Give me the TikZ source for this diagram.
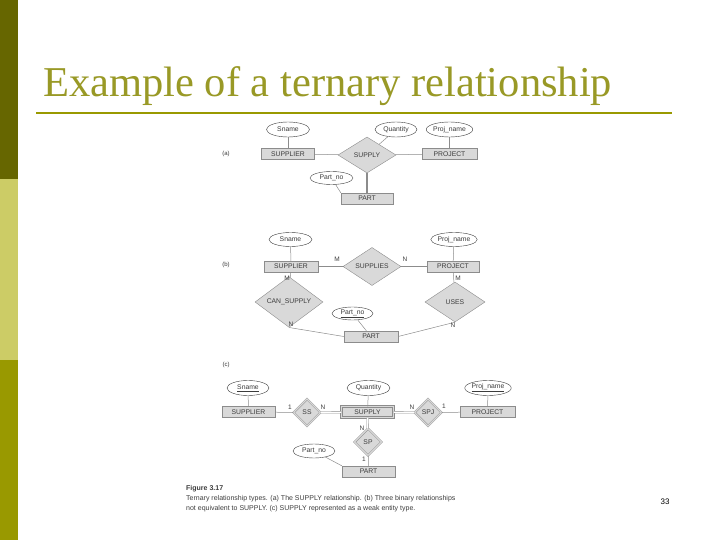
\documentclass[tikz,border=0pt]{standalone}
\usepackage{fontspec}
\setmainfont{Liberation Serif}
\setsansfont{Liberation Sans}
\usepackage{xcolor}
\usepackage{tikz}
\usetikzlibrary{positioning,shapes.geometric}
\definecolor{bardark}{HTML}{666600}
\definecolor{barlight}{HTML}{CCCC66}
\definecolor{barolive}{HTML}{999900}
\definecolor{titleolive}{HTML}{999926}
\definecolor{erfill}{HTML}{D9D9D9}
\definecolor{erline}{HTML}{8C8C8C}
\definecolor{ertext}{HTML}{3C3C3C}
\newcommand{\erkey}[1]{\underline{#1}}

\begin{document}
\begin{tikzpicture}[x=1pt,y=-1pt,font=\sffamily\fontsize{6.8}{8}\selectfont,text=ertext,
  entity/.style={draw=erline,fill=erfill,rectangle,inner sep=0pt,minimum width=53pt,minimum height=11pt},
  weakentity/.style={entity,double=erfill,double distance=1.4pt,minimum width=52pt,minimum height=11pt},
  rel/.style={draw=erline,fill=erfill,diamond,inner sep=0pt,minimum width=58pt,minimum height=36pt},
  idrel/.style={rel,double=erfill,double distance=1.2pt,minimum width=27pt,minimum height=27pt},
  attr/.style={draw=ertext,fill=white,ellipse,inner sep=0pt,minimum width=43pt,minimum height=15pt},
  conn/.style={draw=erline,line width=0.5pt},
  dconn/.style={draw=erline,double=white,double distance=1.3pt,line width=0.4pt},
  card/.style={inner sep=0pt,font=\sffamily\fontsize{6.5}{7}\selectfont},
  part/.style={inner sep=0pt,font=\sffamily\fontsize{6}{7}\selectfont}]
  \useasboundingbox (0,0) rectangle (720,540);
  % slide frame
  \fill[bardark] (0,0) rectangle (18,179);
  \fill[barlight] (0,179) rectangle (18,360);
  \fill[barolive] (0,360) rectangle (18,540);
  \node[anchor=base west,inner sep=0pt,text=titleolive,font=\rmfamily\fontsize{42.5}{46}\selectfont] (title) at (43,97) {Example of a ternary relationship};
  \draw[barolive,line width=2pt] (36,113) -- (672,113);

  % (a) the SUPPLY relationship
  \node[part] (labela) at (226,154) {(a)};
  \node[entity] (supa) at (288,154) {SUPPLIER};
  \node[rel] (supplya) at (367,155) {SUPPLY};
  \node[entity,minimum width=55pt] (proja) at (449.5,154) {PROJECT};
  \node[entity,minimum width=52pt] (parta) at (367,198.5) {PART};
  \node[attr] (snamea) at (288,129.5) {Sname};
  \node[attr,minimum width=42pt] (qtya) at (396,129.5) {Quantity};
  \node[attr] (pnamea) at (449.5,129.5) {Proj\_name};
  \node[attr,minimum height=13pt] (partnoa) at (331.5,178) {Part\_no};
  \draw[conn] (supa) -- (supplya);
  \draw[conn] (supplya) -- (proja);
  \draw[conn,line width=1.2pt] (supplya) -- (parta);
  \draw[conn] (snamea) -- (supa);
  \draw[conn] (qtya) -- (supplya);
  \draw[conn] (pnamea) -- (proja);
  \draw[conn] (partnoa) -- (parta.north west);

  % (b) three binary relationships
  \node[part] (labelb) at (226,265) {(b)};
  \node[entity,minimum width=54pt] (supb) at (291,266.5) {SUPPLIER};
  \node[rel,minimum height=33pt] (suppliesb) at (372,266.5) {SUPPLIES};
  \node[entity,minimum width=52pt] (projb) at (453,266.5) {PROJECT};
  \node[rel,minimum width=68pt,minimum height=40pt] (cansupb) at (289,302) {CAN\_SUPPLY};
  \node[rel,minimum width=60pt,minimum height=40pt] (usesb) at (455,302) {USES};
  \node[entity,minimum width=54pt] (partb) at (371,336.5) {PART};
  \node[attr,minimum height=14pt] (snameb) at (290.5,239.5) {Sname};
  \node[attr,minimum height=14pt] (pnameb) at (454,239.5) {Proj\_name};
  \node[attr,minimum width=41pt,minimum height=13pt] (partnob) at (352.5,313.5) {\erkey{Part\_no}};
  \draw[conn] (supb) -- (suppliesb);
  \draw[conn] (suppliesb) -- (projb);
  \draw[conn] (supb) -- (cansupb);
  \draw[conn] (projb) -- (usesb);
  \draw[conn] (cansupb.south) -- (partb.west);
  \draw[conn] (usesb.south) -- (partb.east);
  \draw[conn] (snameb) -- (supb);
  \draw[conn] (pnameb) -- (projb);
  \draw[conn] (partnob) -- (partb);
  \node[card] (mb1) at (337,259) {M};
  \node[card] (nb1) at (405,259) {N};
  \node[card] (mb2) at (287,278) {M};
  \node[card] (mb3) at (458,278) {M};
  \node[card] (nb2) at (291,324) {N};
  \node[card] (nb3) at (453,325) {N};

  % (c) SUPPLY as a weak entity type
  \node[part] (labelc) at (226,365) {(c)};
  \node[entity] (supc) at (248.5,412) {SUPPLIER};
  \node[idrel] (ssc) at (307,412.5) {SS};
  \node[weakentity] (supplyc) at (367.5,412) {SUPPLY};
  \node[idrel] (spjc) at (428,412.5) {SPJ};
  \node[entity,minimum width=55pt] (projc) at (487.5,412) {PROJECT};
  \node[idrel] (spc) at (368,442) {SP};
  \node[entity] (partc) at (368.5,471.5) {PART};
  \node[attr,minimum width=42pt] (snamec) at (248,388) {\erkey{Sname}};
  \node[attr] (qtyc) at (368.5,388) {Quantity};
  \node[attr,minimum width=42pt] (pnamec) at (488,388) {\erkey{Proj\_name}};
  \node[attr,minimum width=42pt,minimum height=14pt] (partnoc) at (314,451) {Part\_no};
  \draw[conn] (supc) -- (ssc);
  \draw[dconn] (ssc) -- (supplyc);
  \draw[dconn] (supplyc) -- (spjc);
  \draw[conn] (spjc) -- (projc);
  \draw[dconn] (supplyc) -- (spc);
  \draw[conn] (spc) -- (partc);
  \draw[conn] (snamec) -- (supc);
  \draw[conn] (qtyc) -- (supplyc);
  \draw[conn] (pnamec) -- (projc);
  \draw[conn] (partnoc) -- (partc.north west);
  \node[card] (oc1) at (290,407) {1};
  \node[card] (nc1) at (323,407) {N};
  \node[card] (nc2) at (412,407) {N};
  \node[card] (oc2) at (444,406) {1};
  \node[card] (nc3) at (362,428) {N};
  \node[card] (oc3) at (364,459) {1};

  % caption and page number
  \node[anchor=west,inner sep=0pt,font=\sffamily\bfseries\fontsize{7}{8}\selectfont] (figno) at (186,489) {Figure 3.17};
  \node[anchor=north west,inner sep=0pt,align=left,font=\sffamily\fontsize{7}{10}\selectfont] (caption) at (186,495) {Ternary relationship types. (a) The SUPPLY relationship. (b) Three binary relationships\\not equivalent to SUPPLY. (c) SUPPLY represented as a weak entity type.};
  \node[inner sep=0pt,text=black,font=\sffamily\fontsize{8}{9}\selectfont] (pageno) at (665,502) {33};
\end{tikzpicture}
\end{document}
